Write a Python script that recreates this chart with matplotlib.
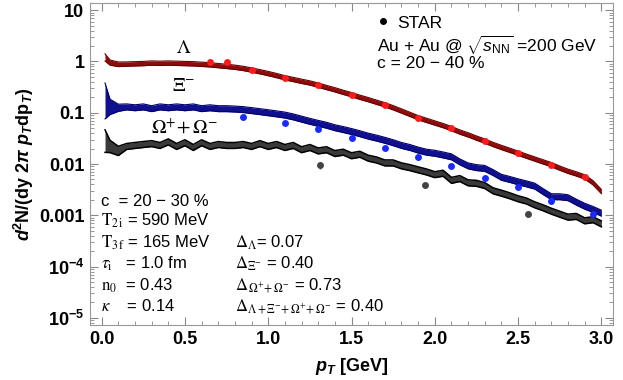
import matplotlib
matplotlib.use("Agg")
import matplotlib.pyplot as plt
from matplotlib.lines import Line2D
import numpy as np

plt.rcParams['font.family'] = ['Liberation Sans', 'DejaVu Sans']
plt.rcParams['mathtext.fontset'] = 'custom'
plt.rcParams['mathtext.rm'] = 'Liberation Sans'
plt.rcParams['mathtext.it'] = 'Liberation Sans:italic'
plt.rcParams['mathtext.bf'] = 'Liberation Sans:bold'
plt.rcParams['mathtext.bfit'] = 'Liberation Sans:italic:bold'

# --- model bands (centre values, half width in decades) ---
pt = [0.02] + [round(0.05 * i, 2) for i in range(1, 61)]

lam = [1.20, 0.95, 0.88, 0.89, 0.90, 0.91, 0.93, 0.92, 0.93, 0.92,
       0.91, 0.90, 0.88, 0.86, 0.83, 0.80, 0.77, 0.73, 0.68, 0.63,
       0.58, 0.53, 0.48, 0.445, 0.41, 0.38, 0.345, 0.31, 0.28, 0.25,
       0.225, 0.20, 0.18, 0.16, 0.143, 0.125, 0.108, 0.093, 0.080, 0.071,
       0.063, 0.056, 0.049, 0.042, 0.037, 0.032, 0.028, 0.024, 0.021, 0.0185,
       0.0162, 0.0142, 0.0125, 0.011, 0.0097, 0.0083, 0.0072, 0.0064, 0.0056, 0.0043,
       0.0029]
lam_w = [0.07, 0.05, 0.045] + [0.042] * 58

xi = [0.17, 0.13, 0.125, 0.13, 0.125, 0.13, 0.12, 0.13, 0.125, 0.13,
      0.125, 0.13, 0.12, 0.125, 0.12, 0.12, 0.118, 0.115, 0.11, 0.105,
      0.10, 0.095, 0.09, 0.083, 0.075, 0.068, 0.062, 0.057, 0.051, 0.047,
      0.043, 0.039, 0.035, 0.032, 0.029, 0.026, 0.023, 0.021, 0.0187, 0.017,
      0.0162, 0.015, 0.0138, 0.011, 0.0092, 0.0085, 0.0082, 0.0068, 0.0055, 0.005,
      0.0045, 0.0041, 0.0037, 0.0029, 0.0023, 0.0023, 0.0022, 0.0018, 0.0015, 0.0013,
      0.0011]
xi_w = [0.35, 0.15, 0.07] + [0.058] * 58

om = [0.028, 0.022, 0.018, 0.022, 0.023, 0.024, 0.025, 0.023, 0.027, 0.022,
      0.026, 0.021, 0.026, 0.022, 0.024, 0.023, 0.023, 0.024, 0.022, 0.025,
      0.022, 0.024, 0.021, 0.023, 0.019, 0.021, 0.018, 0.019, 0.016, 0.017,
      0.0145, 0.0155, 0.013, 0.012, 0.0105, 0.0105, 0.0092, 0.0085, 0.0077, 0.007,
      0.0062, 0.0066, 0.0048, 0.0052, 0.0043, 0.0042, 0.0038, 0.0030, 0.0027, 0.0024,
      0.0021, 0.0019, 0.0016, 0.0014, 0.0012, 0.00105, 0.00092, 0.00095, 0.00078, 0.00082,
      0.00068]
om_w = [0.22, 0.12, 0.09] + [0.058] * 58

# --- STAR data ---
lam_pt = [0.65, 0.75, 0.9, 1.1, 1.3, 1.5, 1.7, 1.9, 2.1, 2.3, 2.5, 2.7, 2.9]
lam_y = [0.957, 0.957, 0.678, 0.48, 0.346, 0.224, 0.143, 0.0798, 0.0496,
         0.0277, 0.0162, 0.00968, 0.00565]
xi_pt = [0.85, 1.1, 1.3, 1.5, 1.7, 1.9, 2.1, 2.3, 2.5, 2.7, 2.95]
xi_y = [0.0813, 0.063, 0.0474, 0.0316, 0.0202, 0.0135, 0.00914, 0.00533,
        0.00351, 0.00193, 0.00106]
om_pt = [1.31, 1.94, 2.56]
om_y = [0.00955, 0.00385, 0.00106]
om_err = [0.0015, 0.0005, 0.00015]

fig = plt.figure(figsize=(6.23, 3.80), dpi=100)
ax = fig.add_axes([0.1445, 0.1447, 0.8395, 0.8474])

def band(c, w, fill, edge, lw):
    c = np.array(c)
    f = 10 ** np.array(w)
    ax.fill_between(pt, c / f, c * f, color=fill, lw=0, zorder=2)
    ax.plot(pt, c / f, color=edge, lw=lw, zorder=3)
    ax.plot(pt, c * f, color=edge, lw=lw, zorder=3)

band(lam, lam_w, '#8e0c0c', '#6a0000', 0.8)
band(xi, xi_w, '#10108e', '#00006e', 0.8)
band(om, om_w, '#3a3a3a', '#000000', 1.1)

ax.plot(lam_pt, lam_y, 'o', color='#ff1a1a', ms=5, mec='none', zorder=4)
ax.plot(xi_pt, xi_y, 'o', color='#1a2aff', ms=5, mec='none', zorder=4)
ax.errorbar(om_pt, om_y, yerr=om_err, fmt='o', color='#444444', ms=5,
            mec='none', elinewidth=1, capsize=0, zorder=4)

ax.set_yscale('log')
ax.set_xlim(-0.07, 3.07)
ax.set_ylim(10 ** -5.14, 10 ** 1.14)

yt = [1e-5, 1e-4, 1e-3, 1e-2, 1e-1, 1, 10]
ytl = [r'$\mathbf{10^{-5}}$', r'$\mathbf{10^{-4}}$', '0.001', '0.01', '0.1', '1', '10']
ax.set_yticks(yt, ytl)
ax.set_xticks([0, 0.5, 1.0, 1.5, 2.0, 2.5, 3.0],
              ['0.0', '0.5', '1.0', '1.5', '2.0', '2.5', '3.0'])
ax.set_xticks(np.arange(0, 3.01, 0.1), minor=True)
ax.yaxis.set_minor_locator(matplotlib.ticker.LogLocator(base=10, subs=np.arange(2, 10)))
ax.yaxis.set_minor_formatter(matplotlib.ticker.NullFormatter())
ax.tick_params(which='both', direction='in', top=True, right=True, color='#888888')
ax.tick_params(which='major', length=6, labelsize=13, pad=4)
ax.tick_params(which='minor', length=3)
for lab in ax.get_xticklabels() + ax.get_yticklabels():
    lab.set_fontweight('bold')
for s in ax.spines.values():
    s.set_color('#999999')

ax.set_xlabel(r'$\mathbfit{p}_{\mathbfit{T}}\ \mathbf{[GeV]}$', fontsize=13, labelpad=6)
ax.set_ylabel(r'$\mathbfit{d}^{\mathbf{2}}\mathbf{N/(dy\ 2}\mathbfit{\pi}\ '
              r'\mathbfit{p}_{\mathbfit{T}}\mathbf{dp}_{\mathbfit{T}}\mathbf{)}$',
              fontsize=13, labelpad=2)

# curve labels
ax.text(0.49, 1.82, r'$\Lambda$', math_fontfamily='stix', fontsize=14, ha='center', va='center')
ax.text(0.49, 0.33, r'$\Xi^{-}$', math_fontfamily='stix', fontsize=14, ha='center', va='center')
ax.text(0.50, 0.05, r'$\Omega^{+}\!+\Omega^{-}$', math_fontfamily='stix', fontsize=14,
        ha='center', va='center')

# legend and collision info
star = Line2D([], [], marker='o', ls='none', color='black', ms=4)
ax.legend([star], ['STAR'], loc='upper left', bbox_to_anchor=(0.52, 1.01), frameon=False,
          fontsize=12.5, handlelength=0.6, handletextpad=0.5)
ax.text(0.549, 0.851, r'Au + Au @ $\sqrt{s_{\mathrm{NN}}}$ =200 GeV', transform=ax.transAxes,
        fontsize=12.5)
ax.text(0.549, 0.798, 'c = 20 − 40 %', transform=ax.transAxes, fontsize=12.5)

# parameters
left = ['c  = 20 − 30 %',
        r'$\mathrm{T}_{2\,\mathrm{i}}$ = 590 MeV',
        r'$\mathrm{T}_{3\,\mathrm{f}}$ = 165 MeV',
        r'$\tau_{\mathrm{i}}$   = 1.0 fm',
        r'$\mathrm{n}_{0}$  = 0.43',
        r'$\kappa$    = 0.14']
right = [r'$\Delta_{\Lambda}$= 0.07',
         r'$\Delta_{\Xi^{-}}$ = 0.40',
         r'$\Delta_{\,\Omega^{+}\!+\Omega^{-}}$ = 0.73',
         r'$\Delta_{\Lambda+\Xi^{-}\!+\Omega^{+}\!+\Omega^{-}}$ = 0.40']
base = [0.371, 0.309, 0.241, 0.175, 0.107, 0.042]
for s, yb in zip(left, base):
    ax.text(0.021, yb, s, transform=ax.transAxes, fontsize=12, math_fontfamily='stix',
            va='baseline')
for s, yb in zip(right, base[2:]):
    ax.text(0.277, yb, s, transform=ax.transAxes, fontsize=12, math_fontfamily='stix',
            va='baseline')

fig.savefig('out.png', dpi=100)
